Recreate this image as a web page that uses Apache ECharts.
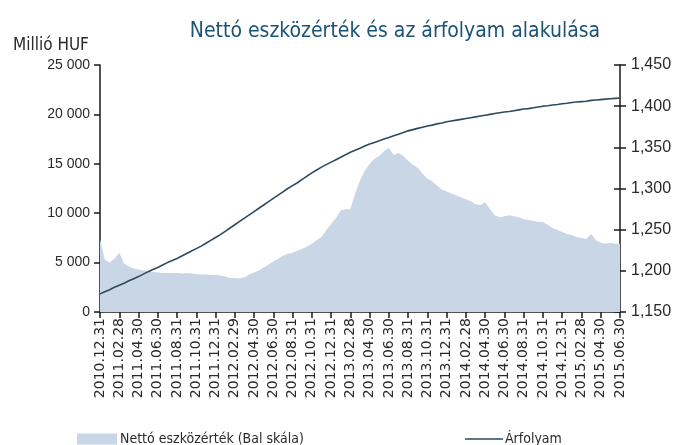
<!DOCTYPE html>
<html><head><meta charset="utf-8">
<script src="https://cdn.jsdelivr.net/npm/echarts@6/dist/echarts.min.js"></script>
<style>html,body{margin:0;padding:0;background:#fff}#c{width:682px;height:445px}</style>
</head><body><div id="c"></div>
<script>
const title = 'Nettó eszközérték és az árfolyam alakulása';
const leftUnit = 'Millió HUF';
const seriesNames = ['Nettó eszközérték (Bal skála)', 'Árfolyam'];
const monthEnds = ['2010.12.31','2011.01.31','2011.02.28','2011.03.31','2011.04.30','2011.05.31','2011.06.30','2011.07.31','2011.08.31','2011.09.30','2011.10.31','2011.11.30','2011.12.31','2012.01.31','2012.02.29','2012.03.31','2012.04.30','2012.05.31','2012.06.30','2012.07.31','2012.08.31','2012.09.30','2012.10.31','2012.11.30','2012.12.31','2013.01.31','2013.02.28','2013.03.31','2013.04.30','2013.05.31','2013.06.30','2013.07.31','2013.08.31','2013.09.30','2013.10.31','2013.11.30','2013.12.31','2014.01.31','2014.02.28','2014.03.31','2014.04.30','2014.05.31','2014.06.30','2014.07.31','2014.08.31','2014.09.30','2014.10.31','2014.11.30','2014.12.31','2015.01.31','2015.02.28','2015.03.31','2015.04.30','2015.05.31','2015.06.30'];
// semi-monthly observations (month end, mid of next month, ...)
const netAssetValue = [7400,5300,5000,5400,6000,4900,4600,4400,4300,4200,4150,4050,4000,3950,3950,3950,3950,3900,3950,3900,3850,3800,3800,3750,3750,3700,3600,3450,3450,3400,3500,3800,4000,4200,4500,4800,5100,5400,5700,5900,6000,6200,6400,6600,6900,7300,7600,8300,8900,9500,10300,10400,10400,12000,13300,14300,15000,15500,15800,16300,16600,15900,16100,15800,15300,14900,14600,14000,13500,13200,12800,12400,12200,12000,11800,11600,11400,11200,10900,10800,11100,10400,9800,9600,9700,9800,9700,9600,9400,9300,9200,9100,9100,8800,8500,8300,8100,7900,7800,7600,7500,7400,7900,7300,7000,6900,7000,6900,6900];
const price = [1172,1174.5,1177,1180,1182.5,1185,1188,1190.5,1193,1196,1199,1201.5,1204,1207,1210,1212.5,1215,1218,1221,1224,1227,1230,1233.5,1237,1240.5,1244,1248,1252,1256,1260,1264,1268,1272,1276,1280,1284,1288,1292,1296,1300,1303.5,1307,1311,1315,1319,1322.5,1326,1329,1332,1335,1338,1341,1344,1346.5,1349,1351.5,1354,1356,1358,1360,1362,1364,1366,1368,1370,1371.5,1373,1374.5,1376,1377,1378.5,1379.5,1381,1382,1383,1384,1385,1386,1387,1388,1389,1390,1391,1392,1393,1393.5,1394.5,1395.5,1396.5,1397,1398,1399,1400,1400.5,1401.5,1402,1403,1403.5,1404.5,1405,1405.5,1406,1407,1407.5,1408,1408.5,1409,1409.5,1410];
const leftTicks = [0, 5000, 10000, 15000, 20000, 25000];
const rightTicks = [1150, 1200, 1250, 1300, 1350, 1400, 1450];

const categories = [];
monthEnds.forEach((d, k) => {
  categories.push(d);
  if (k < monthEnds.length - 1) categories.push(monthEnds[k + 1].slice(0, 8) + '15');
});

const fmtLeft = v => v === 0 ? '0' : String(Math.floor(v / 1000)) + ' ' + String(v % 1000).padStart(3, '0');
const fmtRight = v => Math.floor(v / 1000) + ',' + String(v % 1000).padStart(3, '0');
const showIdx = (i) => i % 4 === 0;
const axisCol = '#1a1a1a';
const txt = '#2a2a2a';
const narrow = '"Liberation Sans Narrow", "DejaVu Sans Condensed", "Liberation Sans", sans-serif';

const chart = echarts.init(document.getElementById('c'), null, {renderer: 'canvas'});
chart.setOption({
  animation: false,
  backgroundColor: '#fff',
  title: [{
    text: title, left: 390, top: 16, textAlign: 'center',
    textStyle: {fontFamily: narrow, fontSize: 21, fontWeight: 'normal', color: '#1B5375'}
  }, {
    text: leftUnit, left: 8, top: 32,
    textStyle: {fontFamily: narrow, fontSize: 17, fontWeight: 'normal', color: txt}
  }],
  legend: [{
    data: [seriesNames[0]], left: 72, top: 427, itemWidth: 40, itemHeight: 11, itemGap: 4,
    icon: 'rect', textStyle: {fontFamily: narrow, fontSize: 14, color: txt, padding: [0,0,0,-2]}
  }, {
    data: [seriesNames[1]], left: 460, top: 427, itemWidth: 38, itemHeight: 1.5, itemGap: 2,
    icon: 'rect', textStyle: {fontFamily: narrow, fontSize: 14, color: txt, padding: [0,0,0,-3]}
  }],
  grid: {left: 100, right: 62, top: 65, bottom: 133, containLabel: false},
  xAxis: {
    type: 'category', data: categories, boundaryGap: false,
    axisLine: {lineStyle: {color: axisCol, width: 1.5}},
    axisTick: {interval: (i) => showIdx(i), length: 6, lineStyle: {color: axisCol, width: 1.5}},
    axisLabel: {interval: (i) => showIdx(i), rotate: 90, margin: 6, fontFamily: '"DejaVu Sans", sans-serif', fontSize: 14, color: txt}
  },
  yAxis: [{
    type: 'value', min: 0, max: 25000, interval: 5000, position: 'left',
    axisLine: {show: true, lineStyle: {color: axisCol, width: 1.5}},
    axisTick: {show: true, length: 6, lineStyle: {color: axisCol, width: 1.5}},
    splitLine: {show: false},
    axisLabel: {formatter: fmtLeft, margin: 10, fontFamily: '"Liberation Sans", sans-serif', fontSize: 14, color: txt}
  }, {
    type: 'value', min: 1150, max: 1450, interval: 50, position: 'right',
    axisLine: {show: true, lineStyle: {color: axisCol, width: 1.5}},
    axisTick: {show: true, length: 6, lineStyle: {color: axisCol, width: 1.5}},
    splitLine: {show: false},
    axisLabel: {formatter: fmtRight, margin: 11, fontFamily: '"Liberation Sans", sans-serif', fontSize: 16, color: txt}
  }, {
    type: 'value', min: 1150, max: 1450, interval: 50, position: 'right',
    axisLine: {show: false},
    axisTick: {show: true, inside: true, length: 6, lineStyle: {color: axisCol, width: 1.5}},
    splitLine: {show: false}, axisLabel: {show: false}
  }],
  series: [{
    name: seriesNames[0], type: 'line', data: netAssetValue, yAxisIndex: 0,
    showSymbol: false, symbol: 'none', lineStyle: {width: 0, color: '#C8D6E5'},
    itemStyle: {color: '#C8D6E5'},
    areaStyle: {color: '#C8D6E5', opacity: 1}, z: 1
  }, {
    name: seriesNames[1], type: 'line', data: price, yAxisIndex: 1,
    showSymbol: false, symbol: 'none', lineStyle: {width: 1.6, color: '#2E4A5E'},
    itemStyle: {color: '#2E4A5E'}, z: 3
  }]
});
</script></body></html>
